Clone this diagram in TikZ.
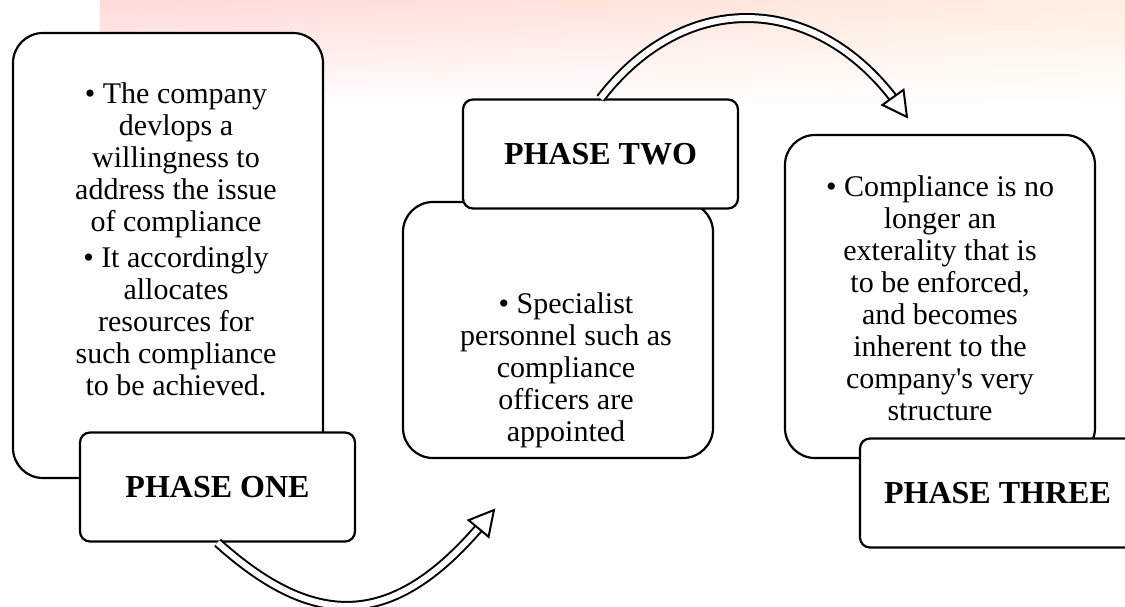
\documentclass[tikz,border=0pt]{standalone}
\usepackage{fontspec}
\setmainfont{Liberation Serif}
\usetikzlibrary{decorations.markings, fadings}

\begin{document}
\begin{tikzpicture}[x=0.5pt, y=-0.5pt,
	bigbox/.style={draw, line width=1.1pt, fill=white, rounded corners=15pt,
		minimum width=155pt, inner sep=0pt},
	phase/.style={draw, line width=1.1pt, fill=white, rounded corners=5pt,
		minimum width=137.5pt, minimum height=54.5pt, inner sep=0pt,
		font=\fontsize{16}{18}\selectfont\bfseries},
	body/.style={align=center, inner sep=0pt, font=\fontsize{15}{16}\selectfont},
	hollow/.style={white, line width=3pt, shorten >=7pt,
		preaction={draw=black, line width=5pt},
		postaction={decorate, decoration={markings, mark=at position 0.998 with
			{\draw[black, line width=1pt, fill=white] (0.3pt,0pt) -- (-11.7pt,6.5pt)
				-- (-11.7pt,-6.5pt) -- cycle;}}}}]
\clip (0,0) rectangle (1125,606);
% faded backdrop
\shade[left color=red!15, middle color=orange!9, right color=orange!13,
	path fading=south] (100,0) rectangle (1125,105);
% text boxes
\foreach \n/\x/\y/\h in {1/168/255.5/222.5, 2/558/330/128, 3/940/296.5/161.5}
	\node[bigbox, minimum height=\h pt] (b\n) at (\x,\y) {};
\node[body] (t1) at (176,239) {\textbullet{} The company\\devlops a\\willingness to\\
	address the issue\\of compliance\\[2pt]\textbullet{} It accordingly\\allocates\\
	resources for\\such compliance\\to be achieved.};
\node[body] (t2) at (566,370) {\textbullet{} Specialist\\personnel such as\\
	compliance\\officers are\\appointed};
\node[body] (t3) at (940,298) {\textbullet{} Compliance is no\\longer an\\
	exterality that is\\to be enforced,\\and becomes\\inherent to the\\
	company\textquotesingle s very\\structure};
% phase labels
\foreach \n/\x/\y/\t in {1/217.5/487/ONE, 2/600.5/154/TWO, 3/997.5/493/THREE}
	\node[phase] (p\n) at (\x,\y) {PHASE \t};
% arrows
\coordinate (a1) at (494,510);
\coordinate (a2) at (907,117);
\draw[hollow] (p1.south) .. controls +(99,89) and +(-99,119) .. (a1);
\draw[hollow] (p2.north) .. controls +(87,-113) and +(-87,-122) .. (a2);
\end{tikzpicture}
\end{document}
